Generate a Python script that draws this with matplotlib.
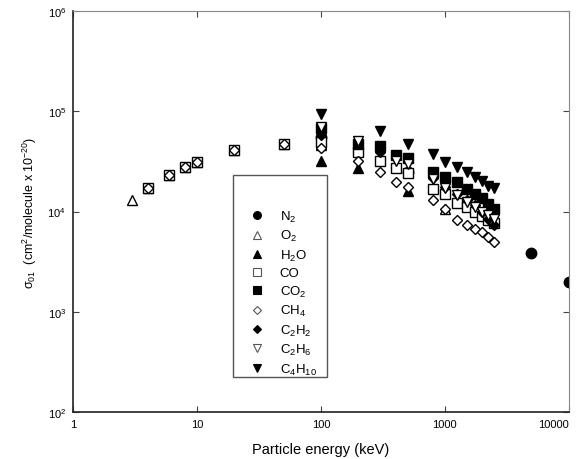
import matplotlib.pyplot as plt
from matplotlib.patches import Rectangle

plt.rcParams['font.family'] = ['Liberation Sans', 'DejaVu Sans']
plt.rcParams['mathtext.fontset'] = 'custom'
plt.rcParams['mathtext.rm'] = 'Liberation Sans'
plt.rcParams['mathtext.it'] = 'Liberation Sans'

# energia (keV) y seccion eficaz para cada gas
n2_e = [100, 500, 5000, 10000]
n2_s = [55000, 25000, 3900, 2000]

o2_e = [3, 4, 6, 8, 10, 20, 50, 100, 1000]
o2_s = [12900, 17000, 23000, 27500, 31000, 41000, 47000, 46000, 10700]

h2o_e = [100, 200, 500]
h2o_s = [32000, 27000, 16000]

co_e = [4, 6, 8, 10, 20, 50, 100, 200, 300, 400, 500, 800, 1000, 1250, 1500, 1750, 2000, 2250, 2500]
co_s = [17000, 23000, 27500, 31000, 41000, 47000, 49000, 39000, 32000, 27000, 24000,
        16600, 14800, 12300, 11000, 10000, 9000, 8200, 7600]

co2_e = [100, 200, 300, 400, 500, 800, 1000, 1250, 1500, 1750, 2000, 2250, 2500]
co2_s = [68000, 47000, 45000, 37000, 34000, 24500, 22300, 19500, 16600, 15000, 13500, 12000, 10500]

ch4_e = [4, 6, 8, 10, 20, 50, 100, 200, 300, 400, 500, 800, 1000, 1250, 1500, 1750, 2000, 2250, 2500]
ch4_s = [17000, 23000, 27500, 31000, 41000, 47000, 43000, 32000, 24500, 19500, 17400,
         12900, 10500, 8300, 7400, 6750, 6200, 5600, 5000]

c2h2_e = [100, 300, 800, 1000, 1250, 1500, 1750, 2000, 2250, 2500]
c2h2_s = [58000, 39000, 21500, 17500, 15000, 13000, 11500, 10000, 8500, 7400]

c2h6_e = [100, 200, 400, 500, 800, 1000, 1250, 1500, 1750, 2000, 2250, 2500]
c2h6_s = [70000, 51000, 32000, 29500, 21000, 17000, 14500, 12500, 11000, 10000, 9200, 8500]

c4h10_e = [100, 300, 500, 800, 1000, 1250, 1500, 1750, 2000, 2250, 2500]
c4h10_s = [94000, 64000, 47000, 37500, 31000, 28000, 24500, 21900, 20000, 18000, 17000]

series = [
    (n2_e, n2_s, 'o', True, 'N$_2$'),
    (o2_e, o2_s, '^', False, 'O$_2$'),
    (h2o_e, h2o_s, '^', True, 'H$_2$O'),
    (co_e, co_s, 's', False, 'CO'),
    (co2_e, co2_s, 's', True, 'CO$_2$'),
    (ch4_e, ch4_s, 'D', False, 'CH$_4$'),
    (c2h2_e, c2h2_s, 'D', True, 'C$_2$H$_2$'),
    (c2h6_e, c2h6_s, 'v', False, 'C$_2$H$_6$'),
    (c4h10_e, c4h10_s, 'v', True, 'C$_4$H$_{10}$'),
]

fig = plt.figure(figsize=(5.81, 4.60), dpi=100)
ax = fig.add_axes([0.1256, 0.102, 0.8534, 0.872])

handles = []
for e, s, m, lleno, nombre in series:
    fc = 'black' if lleno else 'white'
    ms = 7.5 if m == 'o' else (5.5 if m == 'D' else 7)
    ax.plot(e, s, linestyle='none', marker=m, markersize=ms,
            markerfacecolor=fc, markeredgecolor='black', markeredgewidth=1.0)
    h, = ax.plot([], [], linestyle='none', marker=m, markersize=ms * 0.75,
                 markerfacecolor=fc, markeredgecolor='black' if lleno else '#555555',
                 markeredgewidth=0.8, label=nombre)
    handles.append(h)

ax.set_xscale('log')
ax.set_yscale('log')
ax.set_xlim(1, 10000)
ax.set_ylim(100, 1e6)
ax.set_xticks([1, 10, 100, 1000, 10000])
ax.set_xticklabels(['1', '10', '100', '1000', '10000'])
ax.set_yticks([1e2, 1e3, 1e4, 1e5, 1e6])
ax.set_yticklabels(['10$^2$', '10$^3$', '10$^4$', '10$^5$', '10$^6$'])
ax.minorticks_off()
ax.tick_params(direction='in', length=4, top=True, right=True, labelsize=8,
               color='#444444', pad=5)
# la ultima etiqueta se sale del borde, la empujo hacia dentro
ax.get_xticklabels()[-1].set_horizontalalignment('right')
for lado in ['top', 'right']:
    ax.spines[lado].set_color('#888888')
for lado in ['left', 'bottom']:
    ax.spines[lado].set_color('#222222')
    ax.spines[lado].set_linewidth(1.2)

ax.set_xlabel('Particle energy (keV)', fontsize=10.5, labelpad=9)
ax.set_ylabel('σ$_{01}$  (cm$^2$/molecule x 10$^{-20}$)', fontsize=9, labelpad=6)

# recuadro de la leyenda
caja = Rectangle((0.323, 0.087), 0.189, 0.504, transform=ax.transAxes,
                 fill=False, edgecolor='#555555', linewidth=1.0)
ax.add_patch(caja)
ax.legend(handles=handles, loc='upper left', bbox_to_anchor=(0.345, 0.52),
          frameon=False, fontsize=9.5, labelspacing=0.33, handletextpad=1.1,
          handlelength=1.2, borderaxespad=0)

plt.savefig('out.png', dpi=100)
